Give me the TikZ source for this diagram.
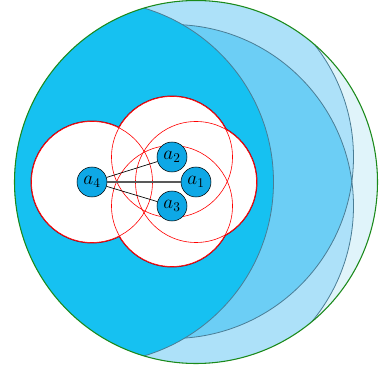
\documentclass[tikz,border=0pt]{standalone}
\usepackage{amsmath}
\definecolor{vlight}{HTML}{E0F4FA}
\definecolor{lightb}{HTML}{ADE1F9}
\definecolor{medb}{HTML}{6CCEF5}
\definecolor{darkb}{HTML}{16C1F1}
\definecolor{agentb}{HTML}{0EA8E6}
\definecolor{bgray}{HTML}{4A7D95}
\definecolor{gcirc}{HTML}{1B8A1B}
\definecolor{dred}{HTML}{B00010}
\tikzset{
  agent/.style={circle, draw=black, line width=0.4pt, fill=agentb, minimum size=22.5pt, inner sep=0pt, font=\fontsize{14.4}{17}\selectfont},
  rangeline/.style={draw=bgray, line width=0.6pt},
  link/.style={draw=black, line width=0.5pt},
}
\begin{document}
\begin{tikzpicture}[x=0.75pt,y=0.75pt]
\useasboundingbox (0,0) rectangle (379,368);
\coordinate (c1) at (196,186);
\coordinate (c2) at (172,211);
\coordinate (c3) at (172,162);
\coordinate (c4) at (92,186);
\def\RR{181.5}
\def\rr{60.5}
\begin{scope}
  \clip (c1) circle (\RR);
  \fill[vlight] (c1) circle (\RR);
  \fill[lightb] (c2) circle (\RR) (c3) circle (\RR);
  \begin{scope}
    \clip (c2) circle (\RR);
    \fill[medb] (c3) circle (\RR);
  \end{scope}
  \draw[rangeline] (c2) circle (\RR);
  \draw[rangeline] (c3) circle (\RR);
  \fill[darkb] (c4) circle (\RR);
  \draw[rangeline] (c4) circle (\RR);
\end{scope}
\draw[gcirc, line width=0.8pt] (c1) circle (\RR);
% red disks
\foreach \c in {c1,c2,c3,c4} \draw[dred, line width=1.4pt] (\c) circle (\rr);
\foreach \c in {c1,c2,c3,c4} \fill[white] (\c) circle (\rr);
\foreach \c in {c1,c2,c3,c4} \draw[red, line width=0.45pt] (\c) circle (\rr);
% agents
\node[agent] (a1) at (c1) {$a_1$};
\node[agent] (a2) at (c2) {$a_2$};
\node[agent] (a3) at (c3) {$a_3$};
\node[agent] (a4) at (c4) {$a_4$};
\draw[link] (a4) -- (a2);
\draw[link] (a4) -- (a3);
\draw[draw=black!65, line width=0.9pt] (a4) -- (a1);
\end{tikzpicture}
\end{document}
